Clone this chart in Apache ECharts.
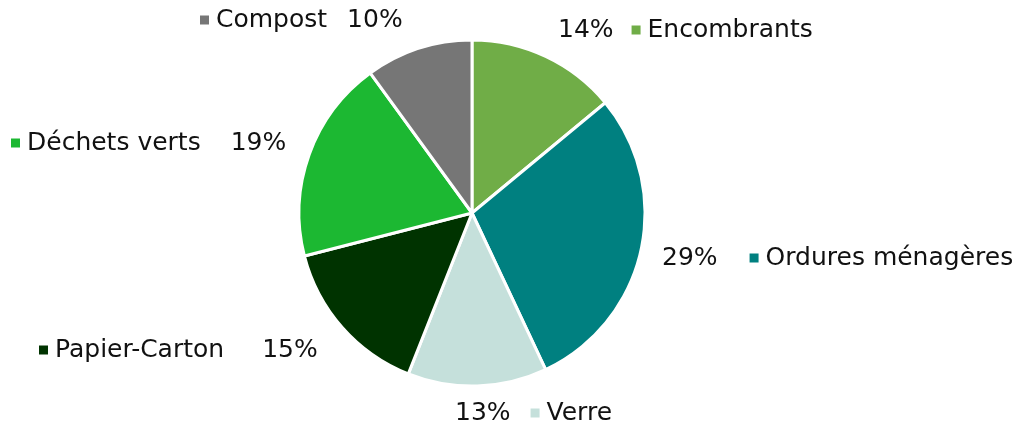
<!DOCTYPE html>
<html>
<head>
<meta charset="utf-8">
<script src="https://cdn.jsdelivr.net/npm/echarts@6/dist/echarts.min.js"></script>
<style>
    html, body { margin: 0; padding: 0; background: #fff; }
    #chart { width: 1027px; height: 425px; }
</style>
</head>
<body>
<div id="chart"></div>
<script>
// données (sens horaire depuis le haut)
var categories = ['Encombrants', 'Ordures ménagères', 'Verre', 'Papier-Carton', 'Déchets verts', 'Compost'];
var percents = [14, 29, 13, 15, 19, 10];
var colors = ['#70AD47', '#008080', '#C5E0DB', '#003300', '#1CB832', '#767676'];

// placement des étiquettes (x gauche, y centre), gap = espace nom/pourcentage
var labelPos = [[558, 30], [662, 258], [455, 413], [39, 350], [11, 143], [200, 20]];
var labelGap = [18, 32, 20, 38, 30, 20];
var pctFirst = [true, true, true, false, false, false];

var pieData = [];
$each = function (arr, fn) { for (var i = 0; i < arr.length; i++) fn(i, arr[i]); };
$each(categories, function (k, name) {
    var rich = {
        sq: {width: 9, height: 9, backgroundColor: colors[k], padding: 0},
        gap: {width: labelGap[k]},
        sp: {width: 7},
        t: {fontSize: 25, fontFamily: 'DejaVu Sans', fontWeight: 'normal', color: '#111'}
    };
    var text;
    if (pctFirst[k]) {
        text = '{t|' + percents[k] + '%}{gap|}{sq|}{sp|}{t|' + name + '}';
    } else {
        text = '{sq|}{sp|}{t|' + name + '}{gap|}{t|' + percents[k] + '%}';
    }
    pieData.push({
        value: percents[k],
        name: name,
        itemStyle: {color: colors[k]},
        label: {formatter: text, rich: rich}
    });
});

var myChart = echarts.init(document.getElementById('chart'), null, {renderer: 'canvas'});
var option = {
    backgroundColor: '#ffffff',
    animation: false,
    series: [
        {
            type: 'pie',
            center: [472, 213],
            radius: 173,
            startAngle: 90,
            clockwise: true,
            data: pieData,
            itemStyle: {borderColor: '#ffffff', borderWidth: 3},
            label: {show: true, position: 'outside', overflow: 'none', width: 500},
            labelLine: {show: false},
            labelLayout: function (params) {
                var p = labelPos[params.dataIndex];
                return {x: p[0], y: p[1], align: 'left', verticalAlign: 'middle'};
            }
        }
    ]
};
myChart.setOption(option);
</script>
</body>
</html>
